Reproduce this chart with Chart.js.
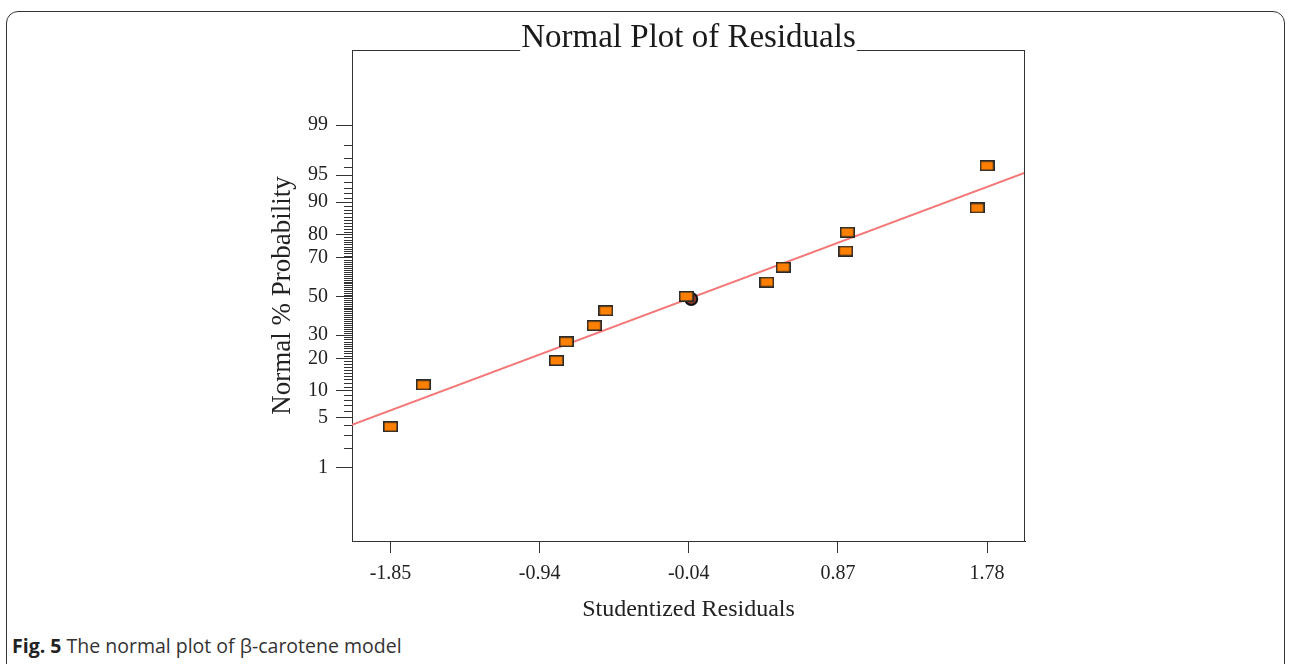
<!DOCTYPE html>
<html><head><meta charset="utf-8">
<script src="https://cdn.jsdelivr.net/npm/chart.js@4.4.1/dist/chart.umd.min.js"></script>
<style>
html,body{margin:0;padding:0;background:#fff;width:1290px;height:664px;overflow:hidden;}
#frame{position:absolute;left:6px;top:11px;width:1279px;height:720px;border:1.5px solid #333;border-radius:12px;box-sizing:border-box;}
#wrap{position:absolute;left:0;top:0;width:1290px;height:630px;}
#caption{position:absolute;left:12px;top:632px;font-family:"Open Sans",sans-serif;font-size:19.5px;color:#333;white-space:nowrap;}
#caption b{color:#222;}
</style></head><body>
<div id="frame"></div>
<div id="wrap"><canvas id="c" width="1290" height="630"></canvas></div>
<div id="caption"><b>Fig. 5</b> The normal plot of β-carotene model</div>
<script>
// Studentized residuals (x) and their normal % probability (y)
const residuals = [-1.85, -1.65, -0.84, -0.78, -0.61, -0.54, -0.05, 0.44, 0.54, 0.92, 0.93, 1.72, 1.78];
const probabilities = [3.85, 11.5, 19.2, 26.9, 34.6, 42.3, 50.0, 57.7, 65.4, 73.1, 80.8, 88.5, 96.2];
const xTickValues = [-1.85, -0.9425, -0.035, 0.8725, 1.78];
const xTickLabels = ['-1.85', '-0.94', '-0.04', '0.87', '1.78'];
const yTickPercents = [1, 5, 10, 20, 30, 50, 70, 80, 90, 95, 99];
const yTickLabels = ['1', '5', '10', '20', '30', '50', '70', '80', '90', '95', '99'];
const fitLineX = [-2.084, 2.011];
const fitLineP = [4.06, 95.35];
const highlightX = [-0.02];
const highlightP = [48.6];
const titleText = 'Normal Plot of Residuals';
const titleSize = 33;

function probit(p){
  const a=[-3.969683028665376e+01,2.209460984245205e+02,-2.759285104469687e+02,1.383577518672690e+02,-3.066479806614716e+01,2.506628277459239e+00];
  const b=[-5.447609879822406e+01,1.615858368580409e+02,-1.556989798598866e+02,6.680131188771972e+01,-1.328068155288572e+01];
  const c=[-7.784894002430293e-03,-3.223964580411365e-01,-2.400758277161838e+00,-2.549732539343734e+00,4.374664141464968e+00,2.938163982698783e+00];
  const d=[7.784695709041462e-03,3.224671290700398e-01,2.445134137142996e+00,3.754408661907416e+00];
  const pl=0.02425, ph=1-pl; let q,r;
  if(p<pl){q=Math.sqrt(-2*Math.log(p));return (((((c[0]*q+c[1])*q+c[2])*q+c[3])*q+c[4])*q+c[5])/((((d[0]*q+d[1])*q+d[2])*q+d[3])*q+1);}
  if(p>ph){q=Math.sqrt(-2*Math.log(1-p));return -(((((c[0]*q+c[1])*q+c[2])*q+c[3])*q+c[4])*q+c[5])/((((d[0]*q+d[1])*q+d[2])*q+d[3])*q+1);}
  q=p-0.5;r=q*q;return (((((a[0]*r+a[1])*r+a[2])*r+a[3])*r+a[4])*r+a[5])*q/(((((b[0]*r+b[1])*r+b[2])*r+b[3])*r+b[4])*r+1);
}

// rectangular orange marker
const marker = document.createElement('canvas');
marker.width = 15; marker.height = 11;
(function(){ const m = marker.getContext('2d');
  m.fillStyle = '#2a2a2a'; m.fillRect(0,0,15,11);
  m.fillStyle = '#FF8000'; m.fillRect(1.6,1.6,11.8,7.8); })();

const frameAndMinorTicks = {
  id: 'frameAndMinorTicks',
  afterDraw(chart){
    const ctx = chart.ctx; const {left,right,top,bottom} = chart.chartArea;
    ctx.save();
    ctx.strokeStyle = '#333'; ctx.lineWidth = 1;
    ctx.font = titleSize + 'px "Liberation Serif"';
    const w = ctx.measureText(titleText).width; const cx = (left+right)/2;
    ctx.beginPath();
    ctx.moveTo(left, top+0.5); ctx.lineTo(cx - w/2 - 1, top+0.5);
    ctx.moveTo(cx + w/2 + 1, top+0.5); ctx.lineTo(right, top+0.5);
    ctx.moveTo(right-0.5, top); ctx.lineTo(right-0.5, bottom);
    const ys = chart.scales.y;
    for (let p = 1; p <= 99; p++) {
      if (yTickPercents.includes(p)) continue;
      const y = Math.round(ys.getPixelForValue(probit(p/100))) + 0.5;
      ctx.moveTo(left - 8, y); ctx.lineTo(left, y);
    }
    ctx.stroke();
    ctx.restore();
  }
};

const serif = 'Liberation Serif';
new Chart(document.getElementById('c'), {
  type: 'scatter',
  data: {
    datasets: [
      { label: 'Residuals', data: residuals.map((x,i)=>({x, y: probit(probabilities[i]/100)})),
        pointStyle: marker, pointRadius: 5, pointHoverRadius: 5, order: 0 },
      { label: 'Selected', data: highlightX.map((x,i)=>({x, y: probit(highlightP[i]/100)})),
        pointStyle: 'circle', pointRadius: 6, backgroundColor: '#8a3a2c', borderColor: '#111', borderWidth: 2, order: 1 },
      { type: 'line', label: 'Fit', data: fitLineX.map((x,i)=>({x, y: probit(fitLineP[i]/100)})),
        borderColor: 'rgb(245,120,120)', borderWidth: 2, pointRadius: 0, fill: false, order: 2 }
    ]
  },
  options: {
    responsive: false, animation: false, devicePixelRatio: 1,
    layout: { padding: { left: 0, right: 265, top: 0, bottom: 0 } },
    plugins: {
      legend: { display: false }, tooltip: { enabled: false },
      title: { display: true, text: titleText, fullSize: false, color: '#1a1a1a',
        font: { family: serif, size: titleSize, weight: 'normal', lineHeight: 0.5 }, padding: { top: 30.5, bottom: 3 } }
    },
    scales: {
      x: { type: 'linear', min: -2.084, max: 2.011,
        afterBuildTicks: s => { s.ticks = xTickValues.map(v => ({ value: v })); },
        afterFit: s => { s.height = 89; },
        ticks: { autoSkip: false, maxRotation: 0, padding: 9, color: '#222', font: { family: serif, size: 20 },
          callback: (v, i) => xTickLabels[i] },
        grid: { drawOnChartArea: false, drawTicks: true, tickLength: 12, tickColor: '#333' },
        border: { display: true, color: '#333', width: 1 },
        title: { display: true, text: 'Studentized Residuals', color: '#222', font: { family: serif, size: 24 }, padding: { top: 0, bottom: 6 } }
      },
      y: { type: 'linear', min: -3.32, max: 3.345,
        afterBuildTicks: s => { s.ticks = yTickPercents.map(p => ({ value: probit(p/100) })); },
        afterFit: s => { s.width = 352; },
        ticks: { autoSkip: false, padding: 8, color: '#222', font: { family: serif, size: 20 },
          callback: (v, i) => yTickLabels[i] },
        grid: { drawOnChartArea: false, drawTicks: true, tickLength: 16, tickColor: '#333' },
        border: { display: true, color: '#333', width: 1 },
        title: { display: true, text: 'Normal % Probability', color: '#222', font: { family: serif, size: 27 }, padding: { top: 266.8, bottom: 0 } }
      }
    }
  },
  plugins: [frameAndMinorTicks]
});
</script>
</body></html>
